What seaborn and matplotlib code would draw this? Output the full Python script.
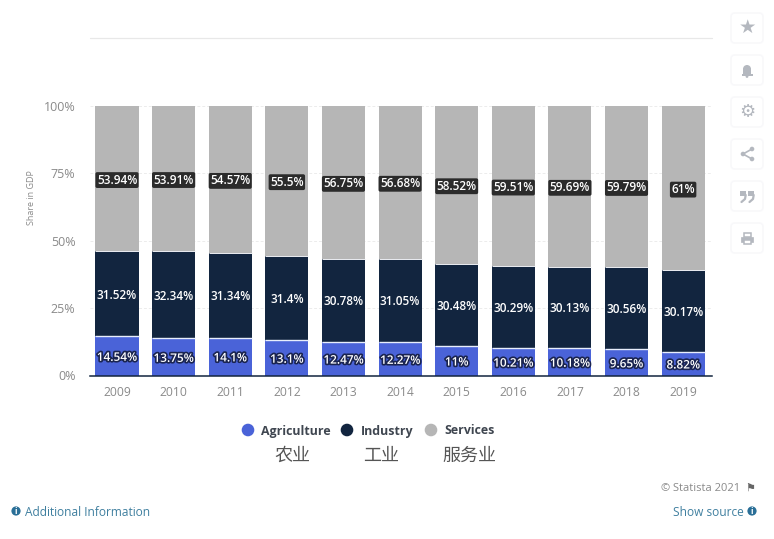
import matplotlib
matplotlib.use('Agg')
import matplotlib.pyplot as plt
import matplotlib.patheffects as pe
from matplotlib.patches import FancyBboxPatch, Circle, Rectangle
import seaborn as sns
import pandas as pd

years = ['2009','2010','2011','2012','2013','2014','2015','2016','2017','2018','2019']
agriculture = [14.54,13.75,14.1,13.1,12.47,12.27,11,10.21,10.18,9.65,8.82]
industry = [31.52,32.34,31.34,31.4,30.78,31.05,30.48,30.29,30.13,30.56,30.17]
services = [53.94,53.91,54.57,55.5,56.75,56.68,58.52,59.51,59.69,59.79,61]
y_ticks = [0,25,50,75,100]

blue = '#4a63d8'
navy = '#12253f'
grey = '#b6b6b6'
text_grey = '#8a8a8a'
font = ['Open Sans','Noto Sans CJK SC','DejaVu Sans']

sns.set_theme(style='white')
plt.rcParams['font.family'] = font

df = pd.DataFrame({'year':years,'agriculture':agriculture,'industry':industry,'services':services})
df['ind_bottom'] = df['agriculture']
df['srv_bottom'] = df['agriculture'] + df['industry']

fig = plt.figure(figsize=(7.74,5.39),dpi=100)
ax = fig.add_axes([90/774,1-375.5/539,622/774,269.5/539])

# stacked bars
sns.barplot(data=df,x='year',y='agriculture',color=blue,saturation=1,width=0.76,ax=ax,zorder=3,linewidth=0)
sns.barplot(data=df,x='year',y='industry',bottom=df['ind_bottom'],color=navy,saturation=1,width=0.76,ax=ax,zorder=3,linewidth=0)
sns.barplot(data=df,x='year',y='services',bottom=df['srv_bottom'],color=grey,saturation=1,width=0.76,ax=ax,zorder=3,linewidth=0)

# thin light seams between the segments
for i in range(len(years)):
    ax.plot([i-0.38,i+0.38],[agriculture[i],agriculture[i]],color='#e8eefc',lw=1,zorder=4,solid_capstyle='butt')
    ax.plot([i-0.38,i+0.38],[df['srv_bottom'][i],df['srv_bottom'][i]],color='#eef0f4',lw=0.7,zorder=4,solid_capstyle='butt')

# value labels
def put_label(i,y,val,**kw):
    ax.annotate(f'{val:g}%',(i,y),xytext=(0,-1),textcoords='offset points',ha='center',va='center',
                color='white',fontsize=8.5,fontweight='semibold',zorder=5,**kw)

for i in range(len(years)):
    put_label(i,agriculture[i]/2,agriculture[i],path_effects=[pe.withStroke(linewidth=2.4,foreground='#1a2450')])
    put_label(i,df['ind_bottom'][i]+industry[i]/2,industry[i])
    put_label(i,df['srv_bottom'][i]+services[i]/2,services[i],
              bbox=dict(boxstyle='round,pad=0.12,rounding_size=0.15',fc='#2b2b2b',ec='none'))

ax.set_xlim(-0.477,10.51)
ax.set_ylim(0,100)
ax.set_yticks(y_ticks)
ax.set_yticklabels([f'{t}%' for t in y_ticks],color=text_grey,fontsize=9)
ax.set_xlabel('')
ax.set_ylabel('Share in GDP',color=text_grey,fontsize=6.5)
ax.yaxis.set_label_coords(-0.087,0.66)
ax.tick_params(axis='x',colors=text_grey,labelsize=8.7,length=0,pad=7.5)
ax.tick_params(axis='y',length=0,pad=10.5)
ax.grid(axis='y',color='#ececec',lw=0.7,ls=(0,(3,2)),zorder=0)
ax.set_axisbelow(True)
for s in ['top','left','right']:
    ax.spines[s].set_visible(False)
ax.spines['bottom'].set_color(navy)
ax.spines['bottom'].set_linewidth(1.1)
ax.spines['bottom'].set_zorder(6)

# overlay in pixel coordinates for the page furniture
ov = fig.add_axes([0,0,1,1],zorder=10)
ov.set_xlim(0,774)
ov.set_ylim(539,0)
ov.axis('off')
ov.patch.set_alpha(0)

ov.plot([90,712],[37.5,37.5],color='#e8e8e8',lw=0.9)

# legend
legend_items = [(248,261,blue,'Agriculture','农业',292),
                (347,361,navy,'Industry','工业',381),
                (431,444,grey,'Services','服务业',469)]
for cx,tx,col,name,cn,cnx in legend_items:
    ov.add_patch(Circle((cx,430),6.3,color=col,lw=0))
    ov.text(tx,431,name,ha='left',va='center',fontsize=8.9,color='#3f4650',fontweight='bold')
    ov.text(cnx,456,cn,ha='center',va='center',fontsize=13,color='#555555',family=['Noto Sans CJK SC','DejaVu Sans'])

# footer
ov.text(740,488.5,'© Statista 2021',ha='right',va='center',fontsize=8,color='#8a8a8a')
ov.text(750,488,'⚑',ha='center',va='center',fontsize=8,color='#666666',family='DejaVu Sans')
link = '#3f7f9f'
ov.text(25,512,'Additional Information',ha='left',va='center',fontsize=8.6,color=link)
ov.text(744,512,'Show source',ha='right',va='center',fontsize=8.6,color=link)
for cx in [16,752]:
    ov.add_patch(Circle((cx,511),4.6,color='#2a6f97',lw=0))
    ov.text(cx,511,'i',ha='center',va='center',fontsize=6,color='white',fontweight='bold')

# side buttons
icon_col = '#b4b8bf'
for cy in [28,70,112,154,196,238]:
    ov.add_patch(FancyBboxPatch((731,cy-15),32,30,boxstyle='round,pad=0,rounding_size=4',fc='white',ec='#f8f8fa',lw=1.2))
ov.text(747,27,'★',ha='center',va='center',fontsize=14,color=icon_col,family='DejaVu Sans')
# bell
ov.add_patch(Circle((747,69),4,color=icon_col,lw=0))
ov.add_patch(Rectangle((743,69),8,5,color=icon_col,lw=0))
ov.add_patch(Rectangle((741.5,73.5),11,2,color=icon_col,lw=0))
ov.add_patch(Circle((747,76.5),1.4,color=icon_col,lw=0))
ov.text(747,112,'⚙',ha='center',va='center',fontsize=13,color=icon_col,family='DejaVu Sans')
# share
ov.plot([752,743,752],[149,154,159],color=icon_col,lw=1.2)
for px,py in [(752,149),(743,154),(752,159)]:
    ov.add_patch(Circle((px,py),2.3,color=icon_col,lw=0))
# closing quote marks
for qx in [742.5,750.5]:
    ov.add_patch(Rectangle((qx-2.5,190.5),6,5.5,color=icon_col,lw=0))
    ov.plot([qx+3.2,qx+2.5,qx-1],[195,199,202],color=icon_col,lw=1.6)
# print
ov.add_patch(Rectangle((743.5,232.5),7,4,fc='white',ec=icon_col,lw=1.1))
ov.add_patch(Rectangle((741,236.5),12,5,fc=icon_col,ec=icon_col,lw=0.5))
ov.add_patch(Rectangle((743.5,239.5),7,4,fc='white',ec=icon_col,lw=1.1))

fig.savefig('out.png',dpi=100,facecolor='white')
